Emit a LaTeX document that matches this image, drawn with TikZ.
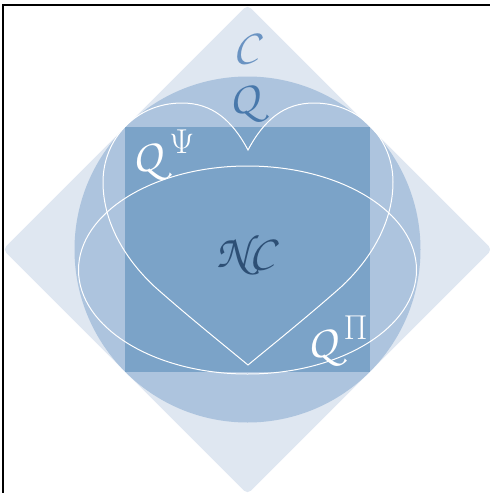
\documentclass[tikz,border=0pt]{standalone}
\IfFileExists{t1pzc.fd}{%
  \DeclareMathAlphabet{\mathcal}{T1}{pzc}{m}{it}%
}{%
  \usepackage[mathcal]{eucal}%
}
\usetikzlibrary{calc}
\definecolor{diafill}{HTML}{DFE7F1}
\definecolor{circfill}{HTML}{ADC4DE}
\definecolor{sqfill}{HTML}{7BA3C8}
\definecolor{ctext}{HTML}{6A93C2}
\definecolor{qtext}{HTML}{4878AB}
\definecolor{nctext}{HTML}{2D4F75}
\tikzset{
  lab/.style={inner sep=0pt, font=\fontsize{23.5}{28}\selectfont},
  outline/.style={draw=white, line width=0.5pt}
}
\begin{document}
\begin{tikzpicture}[x=0.5pt,y=-0.5pt]
\useasboundingbox (0,0) rectangle (490,493);
\clip (0,0) rectangle (490,493);
\coordinate (O) at (247.5,249.5);
% diamond
\fill[diafill, rounded corners=2.5pt] ($(O)+(0,-244.7)$) -- ($(O)+(244.7,0)$) -- ($(O)+(0,244.7)$) -- ($(O)+(-244.7,0)$) -- cycle;
% circle
\fill[circfill] (O) circle[radius=86.5pt];
% square
\fill[sqfill] ($(O)+(-122.3,-122.3)$) rectangle ($(O)+(122.3,122.3)$);
% heart
\draw[outline] (248,150) .. controls (232,120) and (212,103) .. (182,103)
  .. controls (135,103) and (103,140) .. (103,182)
  .. controls (103,225) and (128,262) .. (155,287)
  .. controls (190,318) and (230,350) .. (248,365)
  .. controls (266,350) and (306,318) .. (341,287)
  .. controls (368,262) and (393,225) .. (393,182)
  .. controls (393,140) and (361,103) .. (314,103)
  .. controls (284,103) and (264,120) .. (248,150) -- cycle;
% ellipse
\draw[outline] (247.5,270) ellipse[x radius=84.5pt, y radius=52pt];
% frame
\draw[line width=0.7pt] (3,500) -- (3,5) -- (500,5);
% labels
\node[lab, text=ctext] (c) at (248,47) {$\mathcal{C}$};
\node[lab, text=qtext] (q) at (248,103) {$\mathcal{Q}$};
\node[lab, text=white] (qpsi) at (164,155) {$\mathcal{Q}^{\Psi}$};
\node[lab, text=nctext] (nc) at (248,255) {$\mathcal{NC}$};
\node[lab, text=white] (qpi) at (338,341) {$\mathcal{Q}^{\Pi}$};
\end{tikzpicture}
\end{document}
